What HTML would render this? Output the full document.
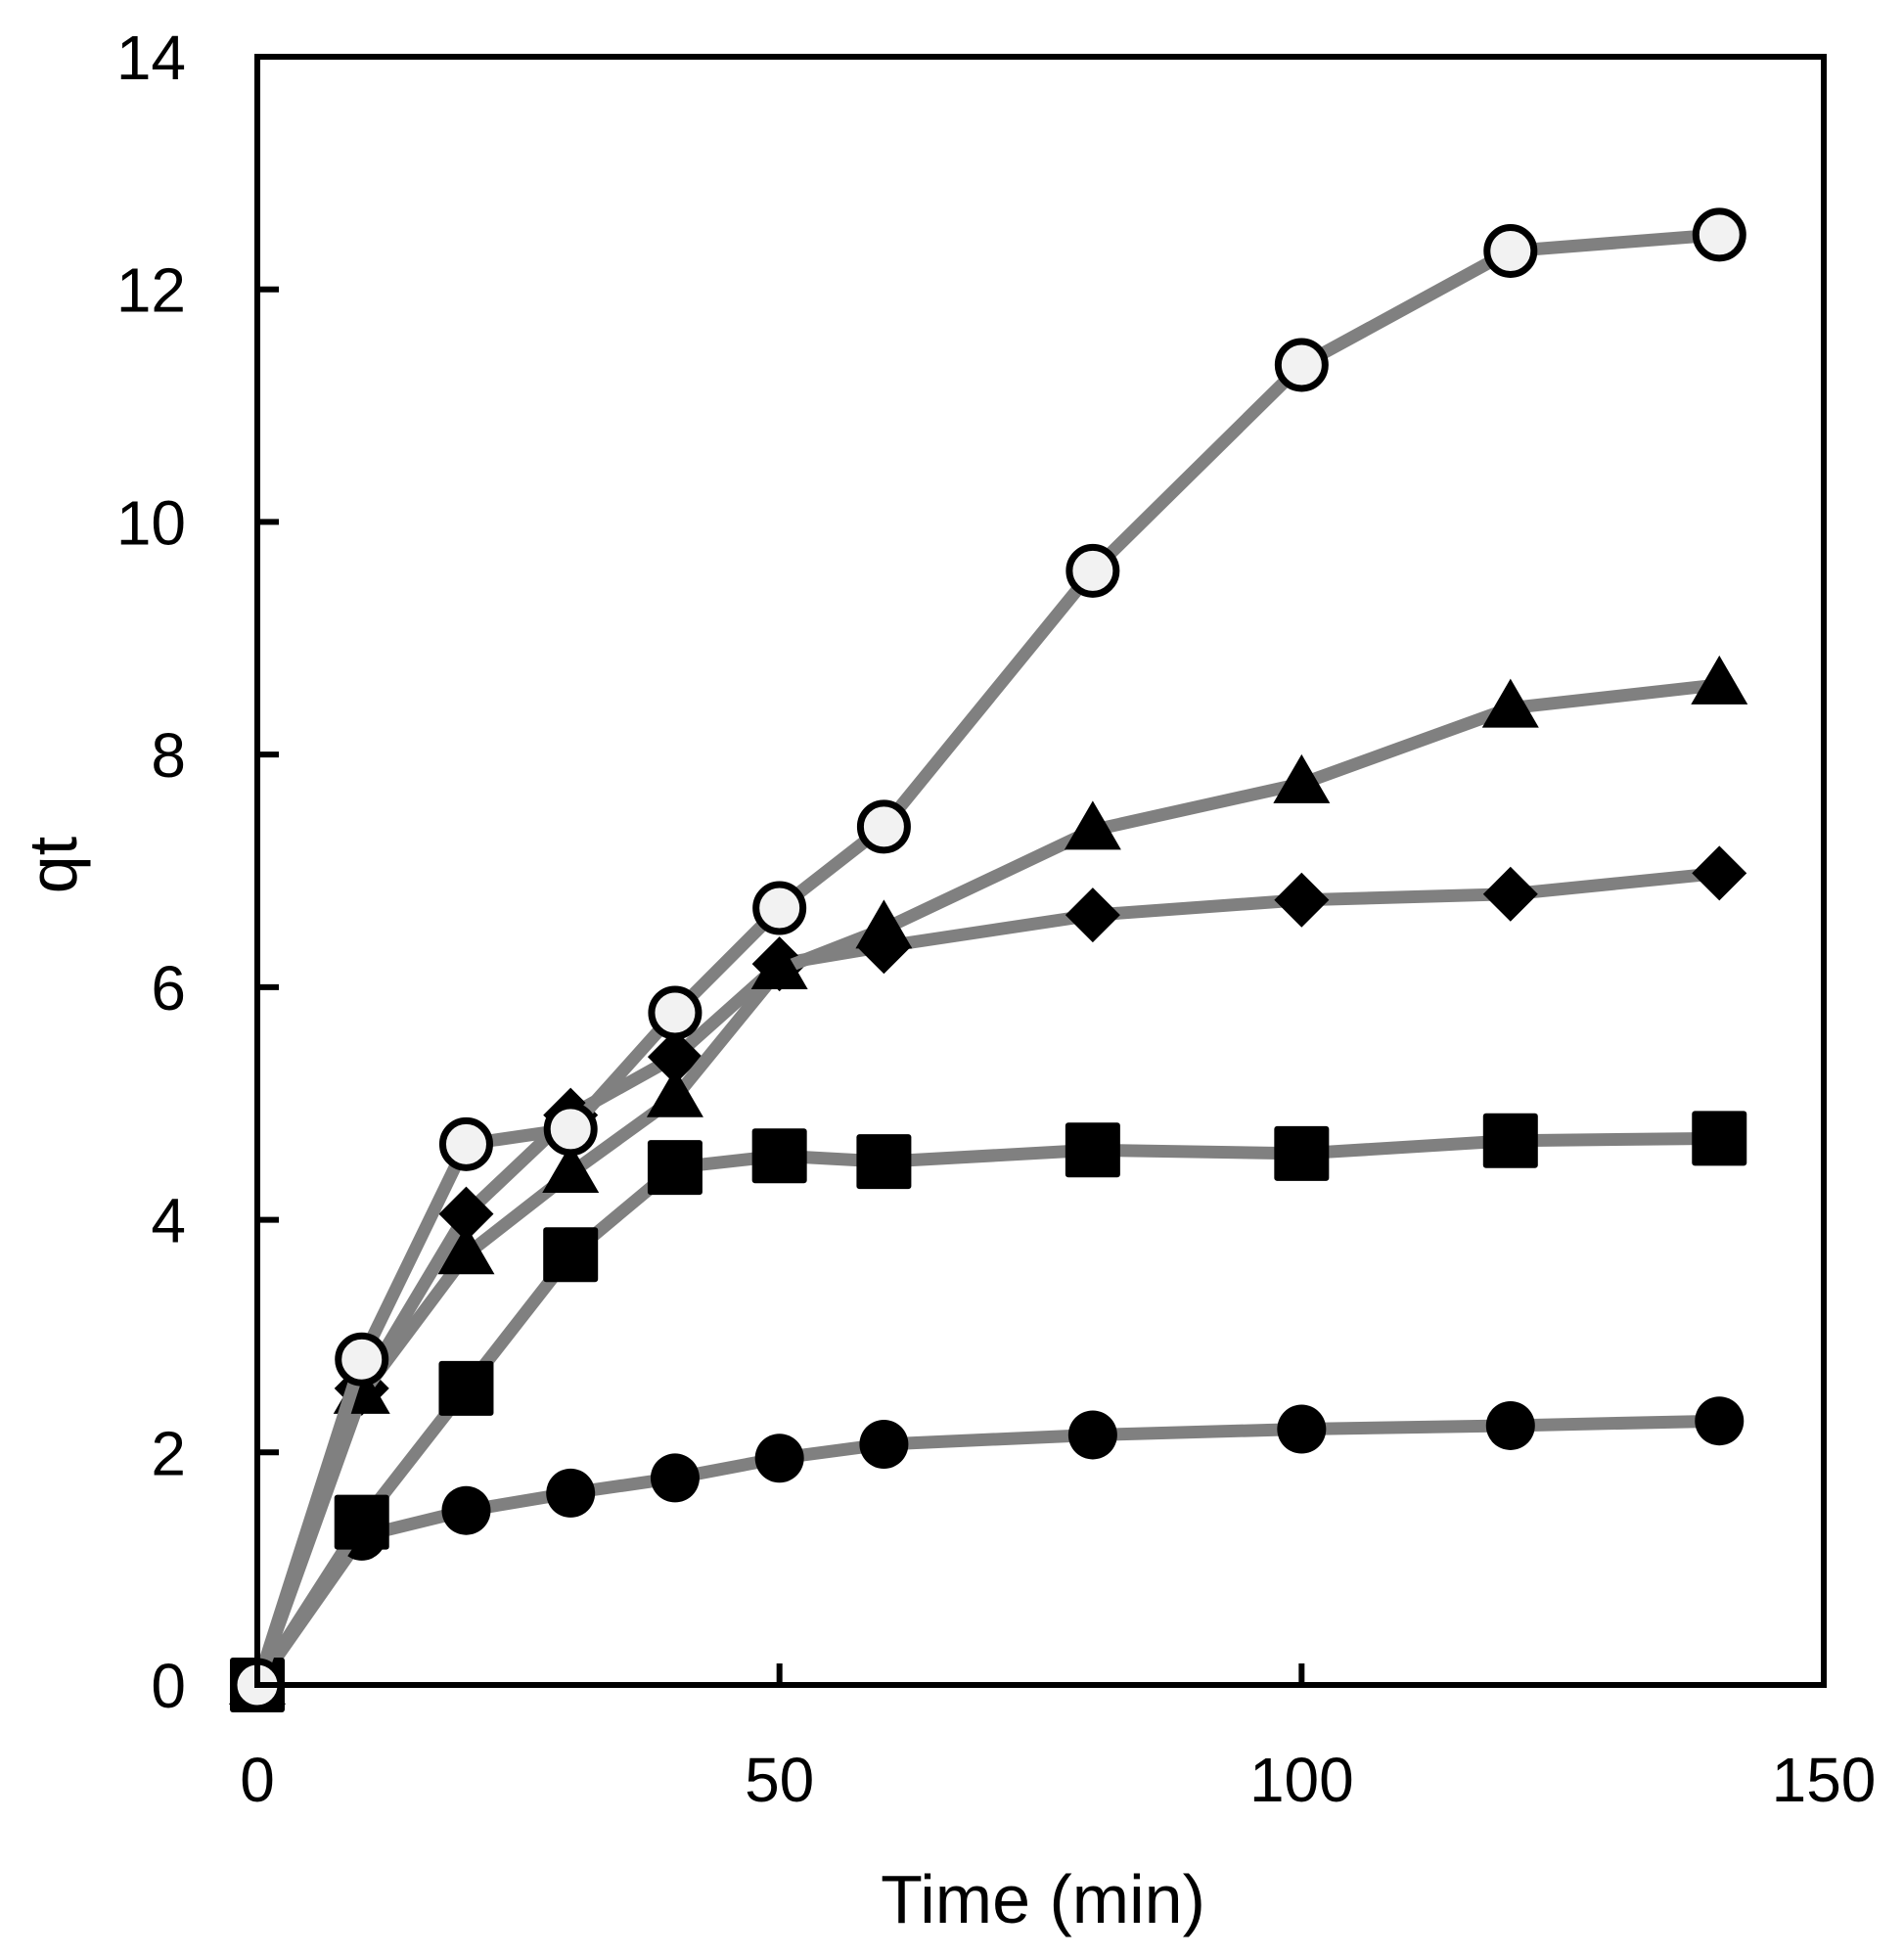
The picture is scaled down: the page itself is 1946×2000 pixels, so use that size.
<!DOCTYPE html>
<html><head><meta charset="utf-8"><style>
html,body{margin:0;padding:0;background:#fff;}
svg{display:block;}
text{font-family:"Liberation Sans",sans-serif;fill:#000;}
</style></head><body>
<svg id="chart" width="1946" height="2000" viewBox="0 0 1946 2000" xmlns="http://www.w3.org/2000/svg">
<g id="series"></g>
<g id="axes"></g>
</svg>
<script>
const times = [0,10,20,30,40,50,60,80,100,120,140];
const openCircle = [0,2.8,4.65,4.78,5.78,6.68,7.38,9.58,11.35,12.33,12.47];
const triangle = [0,2.5,3.7,4.4,5.05,6.15,6.5,7.35,7.75,8.4,8.6];
const diamond = [0,2.55,4.05,4.9,5.4,6.2,6.35,6.62,6.75,6.8,6.98];
const square = [0,1.4,2.55,3.7,4.45,4.55,4.5,4.6,4.57,4.68,4.7];
const filledCircle = [0,1.28,1.5,1.65,1.78,1.95,2.07,2.15,2.2,2.23,2.27];
const xTicks = [0,50,100,150];
const yTicks = [0,2,4,6,8,10,12,14];

const L=263,R=1864,T=58,B=1722;
const sx=v=>L+(v-0)/150*(R-L);
const sy=v=>B-(v-0)/14*(B-T);
const NS='http://www.w3.org/2000/svg';
const S=document.getElementById('series'), A=document.getElementById('axes');
function mk(tag,attrs,parent){const e=document.createElementNS(NS,tag);for(const k in attrs)e.setAttribute(k,attrs[k]);parent.appendChild(e);return e;}

const series=[
 {name:'filled-circle',vals:filledCircle,m:'fcircle'},
 {name:'square',vals:square,m:'square'},
 {name:'diamond',vals:diamond,m:'diamond'},
 {name:'triangle',vals:triangle,m:'triangle'},
 {name:'open-circle',vals:openCircle,m:'ocircle'}
];
series.forEach(s=>{
  const g=mk('g',{},S);
  
  
  const pts=s.vals.map((v,i)=>sx(times[i])+','+sy(v)).join(' ');
  const pl=mk('polyline',{points:pts,fill:'none',stroke:'#808080','stroke-width':13,'stroke-linejoin':'round'},g);
  
  
  s.vals.forEach((v,i)=>{
    const x=sx(times[i]),y=sy(v);let e;
    if(s.m==='fcircle') e=mk('circle',{cx:x,cy:y,r:25,fill:'#000'},g);
    else if(s.m==='ocircle') e=mk('circle',{cx:x,cy:y,r:24,fill:'#f2f2f2',stroke:'#000','stroke-width':7},g);
    else if(s.m==='square') e=mk('rect',{x:x-28,y:y-28,width:56,height:56,rx:3,fill:'#000'},g);
    else if(s.m==='diamond') e=mk('polygon',{points:`${x},${y-28} ${x+28},${y} ${x},${y+28} ${x-28},${y}`,fill:'#000'},g);
    else e=mk('polygon',{points:`${x},${y-30} ${x+29},${y+20} ${x-29},${y+20}`,fill:'#000','stroke-linejoin':'round'},g);
    
    
  });
});

const frame=mk('rect',{x:L,y:T,width:R-L,height:B-T,fill:'none',stroke:'#000','stroke-width':6},A);


yTicks.forEach(v=>{
  const y=sy(v);
  const t=mk('line',{x1:L,x2:L+22,y1:y,y2:y,stroke:'#000','stroke-width':6},A);
  
  
  const tx=mk('text',{x:190,y:y+23,'text-anchor':'end','font-size':64},A);
  tx.textContent=v;
  
  
});
xTicks.forEach(v=>{
  const x=sx(v);
  const t=mk('line',{x1:x,x2:x,y1:B,y2:B-22,stroke:'#000','stroke-width':6},A);
  
  
  const tx=mk('text',{x:x,y:1841,'text-anchor':'middle','font-size':64},A);
  tx.textContent=v;
  
  
});
const xt=mk('text',{x:1066,y:1965,'text-anchor':'middle','font-size':70},A);
xt.textContent='Time (min)';


const yt=mk('text',{x:0,y:0,'text-anchor':'middle','font-size':70,transform:'translate(78,884) rotate(-90)'},A);
yt.textContent='qt';


</script>
</body></html>
